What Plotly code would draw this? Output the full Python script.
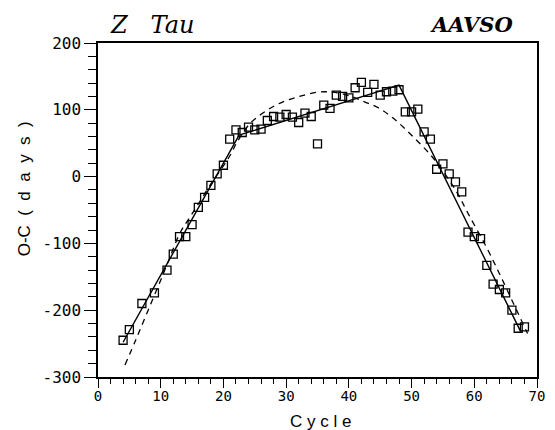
import plotly.graph_objects as go

# Observed O-C values
cycle = [4, 5, 7, 9, 11, 12, 13, 14, 15, 16, 17, 18, 19, 20, 21, 22, 23, 24, 25, 26,
         27, 28, 29, 30, 31, 32, 33, 34, 35, 36, 37, 38, 39, 40, 41, 42, 43, 44, 45, 46,
         47, 48, 49, 50, 51, 52, 53, 54, 55, 56, 57, 58, 59, 60, 61, 62, 63, 64, 65, 66,
         67, 68]
oc = [-245, -229, -190, -174, -140, -116, -90, -90, -72, -46, -31, -13, 4, 17, 56, 70, 66, 74, 70, 71,
      84, 90, 89, 93, 89, 81, 95, 90, 49, 107, 102, 122, 120, 118, 133, 141, 126, 138, 122, 127,
      128, 130, 97, 97, 101, 67, 56, 11, 19, 4, -8, -23, -83, -90, -93, -133, -161, -169, -174, -200,
      -227, -225]

# Piecewise linear fit (knots)
lin_x = [4, 22.5, 48, 67.4]
lin_y = [-248, 62, 137, -232]

# Smooth (dashed) fit
dash_x = [4.3, 6, 8, 10, 11.5, 13.1, 14.7, 16, 18, 20, 21.2, 22.2, 24.3, 26.9, 29.5, 32.1,
          34.8, 36.5, 38.5, 40.7, 42.5, 44.7, 47, 50, 53.6, 57, 59, 61.9, 64, 66, 68.5]
dash_y = [-282, -245, -200, -155, -120, -84, -60, -41, -11, 16, 34, 52, 80, 99, 112, 120,
          126, 127, 125, 119, 112, 103, 88, 62, 26, -20, -55, -105, -145, -185, -235]

x_ticks = [0, 10, 20, 30, 40, 50, 60, 70]
y_ticks = [-300, -200, -100, 0, 100, 200]

fig = go.Figure()
fig.add_trace(go.Scatter(x=dash_x, y=dash_y, mode="lines", line_shape="spline",
                         line=dict(color="black", width=1.3, dash="6px,5px"),
                         showlegend=False, hoverinfo="skip"))
fig.add_trace(go.Scatter(x=lin_x, y=lin_y, mode="lines",
                         line=dict(color="black", width=1.4),
                         showlegend=False, hoverinfo="skip"))
fig.add_trace(go.Scatter(x=cycle, y=oc, mode="markers",
                         marker=dict(symbol="square-open", size=8, color="black",
                                     line=dict(width=1.3, color="black")),
                         showlegend=False))

# Plot-area pixel frame
pl, pr, pt, pb = 98, 545, 43, 377


def px_to_paper(xp, yp):
    return (xp - pl) / (pr - pl), (pb - yp) / (pb - pt)


NB = "\u00a0"
anns = []
x0, y0 = px_to_paper(108, 25)
anns.append(dict(text="<i>Z" + NB * 3 + "Tau</i>", x=x0, y=y0, xref="paper", yref="paper",
                 xanchor="left", yanchor="middle", showarrow=False,
                 font=dict(family="DejaVu Serif", size=24, color="black")))
x1, y1 = px_to_paper(524, 25)
anns.append(dict(text="<b><i>AAVSO</i></b>", x=x1, y=y1, xref="paper", yref="paper",
                 xanchor="right", yanchor="middle", showarrow=False,
                 font=dict(family="DejaVu Serif", size=21, color="black")))
x2, y2 = px_to_paper(325, 421)
anns.append(dict(text="C y c l e", x=x2, y=y2, xref="paper", yref="paper",
                 xanchor="center", yanchor="middle", showarrow=False,
                 font=dict(family="Liberation Sans", size=17, color="black")))
x3, y3 = px_to_paper(23, 189)
ytitle = "O-C" + NB * 2 + "(" + NB * 2 + "d" + NB * 2 + "a" + NB * 2 + "y" + NB * 2 + "s" + NB * 2 + ")"
anns.append(dict(text=ytitle, x=x3, y=y3, xref="paper", yref="paper",
                 xanchor="center", yanchor="middle", showarrow=False, textangle=-90,
                 font=dict(family="Liberation Sans", size=17, color="black")))

fig.update_layout(
    width=555, height=430,
    margin=dict(l=pl, r=555 - pr, t=pt, b=430 - pb),
    paper_bgcolor="white", plot_bgcolor="white",
    xaxis=dict(range=[0, 70], tickvals=x_ticks, ticktext=[str(v) for v in x_ticks],
               ticks="outside", ticklen=9, tickwidth=1.3, tickcolor="black",
               minor=dict(dtick=2, ticks="outside", ticklen=5, tickwidth=1.2, tickcolor="black"),
               showline=True, linecolor="black", linewidth=1.5, mirror=True,
               showgrid=False, zeroline=False, ticklabelstandoff=-4,
               tickfont=dict(family="DejaVu Sans Mono", size=14, color="black")),
    yaxis=dict(range=[-300, 200], tickvals=y_ticks, ticktext=[str(v) for v in y_ticks],
               ticks="outside", ticklen=12, tickwidth=1.3, tickcolor="black",
               minor=dict(dtick=20, ticks="outside", ticklen=8, tickwidth=1.2, tickcolor="black"),
               showline=True, linecolor="black", linewidth=1.5, mirror=True,
               showgrid=False, zeroline=False,
               tickfont=dict(family="DejaVu Sans Mono", size=16, color="black")),
    annotations=anns,
)

fig.write_html("out.html")
